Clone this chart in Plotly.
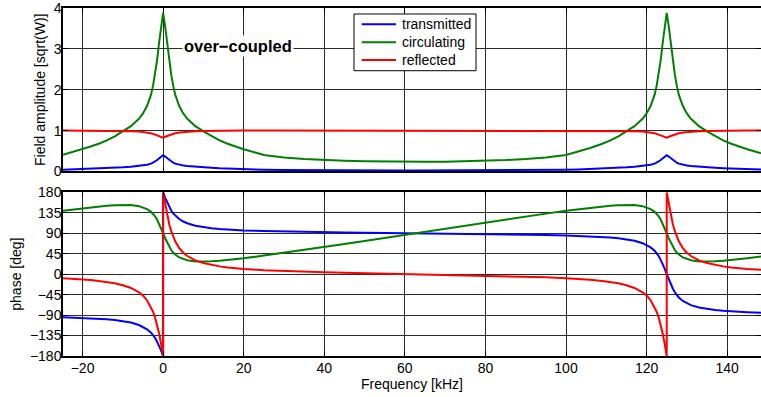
import plotly.graph_objects as go

# Frequency samples [kHz] (duplicates mark the phase wrap)
freq = [-24.85, -22, -20, -18, -16, -14, -12, -10, -8, -6, -5, -4, -3, -2.5, -2, -1.5, -1, -0.5,
        0, 0, 0.5, 1, 1.5, 2, 2.5, 3, 4, 5, 6, 8, 10, 12, 14, 16, 18, 20, 25, 30, 35, 40, 45,
        50, 55, 60, 62.5, 65, 70, 75, 80, 85, 90, 95, 100, 103, 106, 109, 111, 113, 115, 117,
        119, 120, 121, 122, 122.5, 123, 123.5, 124, 124.5, 125, 125, 125.5, 126, 126.5, 127,
        127.5, 128, 129, 130, 131, 133, 135, 137, 139, 141, 143, 145, 148.4]

# Field amplitudes [sqrt(W)]
amp_transmitted = [0.042, 0.05, 0.056, 0.063, 0.07, 0.078, 0.089, 0.101, 0.115, 0.134, 0.146,
                   0.165, 0.193, 0.215, 0.245, 0.28, 0.325, 0.365, 0.40, 0.40, 0.365, 0.325,
                   0.28, 0.245, 0.215, 0.193, 0.165, 0.146, 0.134, 0.115, 0.101, 0.089, 0.078,
                   0.07, 0.063, 0.056, 0.042, 0.036, 0.031, 0.029, 0.027, 0.026, 0.025, 0.024,
                   0.024, 0.024, 0.025, 0.026, 0.027, 0.029, 0.031, 0.036, 0.042, 0.05, 0.059,
                   0.07, 0.078, 0.089, 0.101, 0.115, 0.134, 0.146, 0.165, 0.193, 0.215, 0.245,
                   0.28, 0.325, 0.365, 0.40, 0.40, 0.365, 0.325, 0.28, 0.245, 0.215, 0.193,
                   0.165, 0.146, 0.134, 0.115, 0.101, 0.089, 0.078, 0.07, 0.063, 0.056, 0.046]
amp_circulating = [0.41, 0.49, 0.545, 0.61, 0.68, 0.76, 0.86, 0.98, 1.11, 1.29, 1.42, 1.6,
                   1.88, 2.1, 2.38, 2.72, 3.15, 3.55, 3.88, 3.88, 3.55, 3.15, 2.72, 2.38, 2.1,
                   1.88, 1.6, 1.42, 1.29, 1.11, 0.98, 0.86, 0.76, 0.68, 0.61, 0.545, 0.405,
                   0.345, 0.305, 0.28, 0.26, 0.248, 0.24, 0.236, 0.235, 0.236, 0.24, 0.248,
                   0.26, 0.28, 0.305, 0.345, 0.405, 0.49, 0.575, 0.68, 0.76, 0.86, 0.98, 1.11,
                   1.29, 1.42, 1.6, 1.88, 2.1, 2.38, 2.72, 3.15, 3.55, 3.88, 3.88, 3.55, 3.15,
                   2.72, 2.38, 2.1, 1.88, 1.6, 1.42, 1.29, 1.11, 0.98, 0.86, 0.76, 0.68, 0.61,
                   0.545, 0.445]
amp_reflected = [1, 1, 1, 1, 1, 0.998, 0.996, 0.992, 0.986, 0.976, 0.967, 0.955, 0.935, 0.921,
                 0.905, 0.888, 0.87, 0.85, 0.83, 0.83, 0.85, 0.87, 0.888, 0.905, 0.921, 0.935,
                 0.955, 0.967, 0.976, 0.986, 0.992, 0.996, 0.998, 1, 1, 1, 1, 1, 1, 1, 1, 1, 1,
                 1, 1, 1, 1, 1, 1, 1, 1, 1, 1, 1, 1, 1, 0.998, 0.996, 0.992, 0.986, 0.976,
                 0.967, 0.955, 0.935, 0.921, 0.905, 0.888, 0.87, 0.85, 0.83, 0.83, 0.85, 0.87,
                 0.888, 0.905, 0.921, 0.935, 0.955, 0.967, 0.976, 0.986, 0.992, 0.996, 0.998,
                 1, 1, 1, 1]

# Phases [deg]
ph_transmitted = [-94.8, -95.6, -96.2, -97.1, -98, -99.3, -101, -103.3, -106.5, -111.9, -115.8,
                  -121.2, -128.7, -133.6, -140.1, -148.5, -157.6, -168.3, -180, 180, 168.3,
                  157.6, 148.5, 140.1, 133.6, 128.7, 121.2, 115.8, 111.9, 106.5, 103.3, 101,
                  99.3, 98, 97.1, 96.2, 94.8, 93.7, 92.9, 92.2, 91.6, 91.1, 90.7, 90.2, 90,
                  89.8, 89.3, 88.9, 88.4, 87.8, 87.1, 86.3, 85.2, 84.4, 83.4, 82, 80.7, 79,
                  76.7, 73.5, 68.1, 64.2, 58.8, 51.3, 46.4, 39.9, 31.5, 22.4, 11.7, 0, 0,
                  -11.7, -22.4, -31.5, -39.9, -46.4, -51.3, -58.8, -64.2, -68.1, -73.5, -76.7,
                  -79, -80.7, -82, -82.9, -83.8, -84.9]
ph_circulating = [139.4, 142.7, 145, 147, 149, 150.5, 151.7, 152.3, 152, 149.5, 147, 143, 137,
                  132.5, 127, 120, 111, 101, 90, 90, 79, 69, 60, 53, 47.5, 43, 37, 33, 30.5,
                  28, 27.7, 28.3, 29.5, 31, 33, 35, 40.8, 46.9, 53.3, 59.8, 66.4, 73.1, 79.9,
                  86.6, 90, 93.4, 100.1, 106.9, 113.6, 120.2, 126.7, 133.1, 139.2, 142.7, 146,
                  149, 150.5, 151.7, 152.3, 152, 149.5, 147, 143, 137, 132.5, 127, 120, 111,
                  101, 90, 90, 79, 69, 60, 53, 47.5, 43, 37, 33, 30.5, 28, 27.7, 28.3, 29.5,
                  31, 33, 35, 38.8]
ph_reflected = [-8.8, -10.2, -11.5, -12.9, -14.85, -17.1, -20.1, -24.3, -30.3, -39.9, -47.1,
                -57.3, -72.2, -82.5, -95.1, -110.5, -130.7, -154, -180, 180, 154, 130.7, 110.5,
                95.1, 82.5, 72.2, 57.3, 47.1, 39.9, 30.3, 24.3, 20.1, 17.1, 14.85, 12.9, 11.5,
                8.8, 6.7, 5.26, 4.0, 2.95, 2.06, 1.2, 0.4, 0, -0.4, -1.2, -2.06, -2.95, -4.0,
                -5.26, -6.7, -8.8, -10.2, -12.2, -14.85, -17.1, -20.1, -24.3, -30.3, -39.9,
                -47.1, -57.3, -72.2, -82.5, -95.1, -110.5, -130.7, -154, -180, 180, 154, 130.7,
                110.5, 95.1, 82.5, 72.2, 57.3, 47.1, 39.9, 30.3, 24.3, 20.1, 17.1, 14.85, 12.9,
                11.5, 9.5]

names = ["transmitted", "circulating", "reflected"]
colors = ["#0000FF", "#008000", "#FF0000"]
amps = [amp_transmitted, amp_circulating, amp_reflected]
phases = [ph_transmitted, ph_circulating, ph_reflected]

x_ticks = [-20, 0, 20, 40, 60, 80, 100, 120, 140]
amp_ticks = [0, 1, 2, 3, 4]
phase_ticks = [-180, -135, -90, -45, 0, 45, 90, 135, 180]

FONT = "Liberation Sans, Arial, sans-serif"

fig = go.Figure()
for n, c, a in zip(names, colors, amps):
    fig.add_trace(go.Scatter(x=freq, y=a, mode="lines", name=n, showlegend=False,
                             line=dict(color=c, width=2), xaxis="x", yaxis="y"))
for n, c, p in zip(names, colors, phases):
    fig.add_trace(go.Scatter(x=freq, y=p, mode="lines", name=n, showlegend=False,
                             line=dict(color=c, width=2), xaxis="x2", yaxis="y2"))

common_axis = dict(showgrid=True, gridcolor="#2a2a2a", gridwidth=1, zeroline=False,
                   showline=True, linecolor="black", linewidth=1.5, mirror="ticks",
                   ticks="inside", ticklen=5, tickcolor="black", automargin=False,
                   ticklabeloverflow="allow",
                   tickfont=dict(family=FONT, size=14, color="black"))

# Legend box drawn in paper coordinates (box, sample lines, labels)
leg_box = (0.4169, 0.8198, 0.5917, 0.9828)
leg_line_x = (0.4279, 0.4771)
leg_text_x = 0.4828
leg_rows_y = [0.9532, 0.9014, 0.8506]

shapes = [dict(type="rect", xref="paper", yref="paper", x0=leg_box[0], y0=leg_box[1],
               x1=leg_box[2], y1=leg_box[3], fillcolor="white",
               line=dict(color="black", width=1), layer="above")]
annotations = []
for n, c, yy in zip(names, colors, leg_rows_y):
    shapes.append(dict(type="line", xref="paper", yref="paper", x0=leg_line_x[0], x1=leg_line_x[1],
                       y0=yy, y1=yy, line=dict(color=c, width=2), layer="above"))
    annotations.append(dict(text=n, xref="paper", yref="paper", x=leg_text_x, y=yy,
                            xanchor="left", yanchor="middle", showarrow=False,
                            font=dict(family=FONT, size=14, color="black")))

annotations.append(dict(text="<b>over\u2212coupled</b>", x=4.7, y=3.08, xref="x", yref="y",
                        showarrow=False, font=dict(family=FONT, size=16.5, color="black"),
                        bgcolor="white", xanchor="left", yanchor="middle", borderpad=1))

fig.update_layout(
    width=761, height=397,
    margin=dict(l=63, r=0, t=8, b=41, autoexpand=False),
    paper_bgcolor="white", plot_bgcolor="white",
    font=dict(family=FONT, size=14, color="black"),
    showlegend=False,
    xaxis=dict(domain=[0, 1], anchor="y", range=[-24.85, 148.4], tickvals=x_ticks,
               showticklabels=False, **common_axis),
    xaxis2=dict(domain=[0, 1], anchor="y2", range=[-24.85, 148.4], tickvals=x_ticks,
                matches="x", showticklabels=True, ticklabelstandoff=-2,
                title=dict(text="Frequency [kHz]", font=dict(family=FONT, size=14), standoff=2),
                **common_axis),
    yaxis=dict(domain=[0.5302, 1.0], anchor="x", range=[0, 4], tickvals=amp_ticks,
               ticklabelstandoff=-3,
               title=dict(text="Field amplitude [sqrt(W)]", font=dict(family=FONT, size=14),
                          standoff=5),
               **common_axis),
    yaxis2=dict(domain=[0, 0.4704], anchor="x2", range=[-180, 180], tickvals=phase_ticks,
                ticklabelstandoff=-3,
                title=dict(text="phase [deg]", font=dict(family=FONT, size=14), standoff=5),
                **common_axis),
    shapes=shapes,
    annotations=annotations,
)

fig.write_html("out.html", config={"displayModeBar": False},
               post_script="document.body.style.margin='0px';"
                           "document.body.style.overflow='hidden';")
